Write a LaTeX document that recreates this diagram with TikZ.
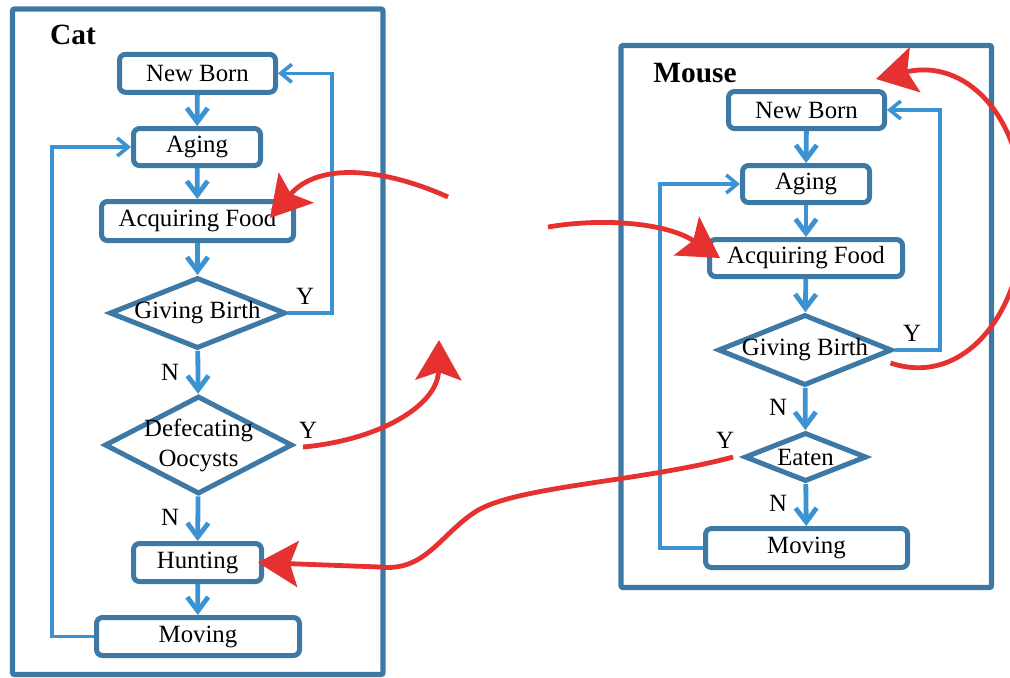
\documentclass[tikz,border=0pt]{standalone}
\usepackage{fontspec}
\setmainfont{Liberation Serif}
\usetikzlibrary{arrows.meta,shapes.geometric,positioning,calc}

\definecolor{frameblue}{RGB}{61,121,164}
\definecolor{flowblue}{RGB}{59,147,211}
\definecolor{redline}{RGB}{229,50,48}

\tikzset{
  txt/.style={font=\fontsize{12.4}{15}\selectfont},
  frame/.style={draw=frameblue,line width=2.6pt,rounded corners=1pt},
  box/.style={draw=frameblue,line width=2.5pt,rounded corners=3pt,fill=white,inner sep=0pt,txt},
  decision/.style={draw=frameblue,line width=2.5pt,diamond,fill=white,inner sep=0pt},
  flow/.style={draw=flowblue,line width=2.4pt,-{Straight Barb[length=7pt,width=10.5pt]}},
  loopline/.style={draw=flowblue,line width=1.8pt,-{Straight Barb[length=5.5pt,width=9pt]}},
  redarrow/.style={draw=redline,line width=2.4pt,-{Stealth[length=20pt,width=23pt,inset=4pt]}},
  title/.style={font=\fontsize{14.7}{16}\selectfont\bfseries}
}

\begin{document}
\begin{tikzpicture}[x=0.5pt,y=-0.5pt]

\useasboundingbox (0,0) rectangle (1010,677);
\clip (0,0) rectangle (1010,677);

% cat
\draw[frame] (12.5,9) rectangle (383,674.5);
\node[title] (cattitle) at (73,35) {Cat};

\node[box,minimum width=78pt,minimum height=19pt] (cnew) at (197.5,73.3) {New Born};
\node[box,minimum width=63.5pt,minimum height=18.5pt] (caging) at (197,147) {Aging};
\node[box,minimum width=96pt,minimum height=19.5pt] (cfood) at (197.5,221) {Acquiring Food};
\node[decision,minimum width=88pt,minimum height=35.5pt,label={[txt]center:Giving Birth}] (cbirth) at (197.5,313) {};
\node[decision,minimum width=94pt,minimum height=49pt,label={[txt,align=center]center:{Defecating\\Oocysts}}] (cdef) at (198.5,445) {};
\node[box,minimum width=64pt,minimum height=19pt] (chunt) at (197.5,562.5) {Hunting};
\node[box,minimum width=101.5pt,minimum height=19pt] (cmove) at (198,636.5) {Moving};

\draw[flow] (cnew) -- (caging);
\draw[flow] (caging) -- (cfood);
\draw[flow] (cfood) -- (cbirth);
\draw[flow] (cbirth) -- (cdef);
\draw[flow] (cdef) -- (chunt);
\draw[flow] (chunt) -- (cmove);
\draw[loopline] (cbirth.east) -- (cbirth.east -| 332,0) |- (cnew.east);
\draw[loopline] (cmove.west) -- (cmove.west -| 52,0) |- (caging.west);

\node[txt] (cby) at (305,296) {Y};
\node[txt] (cdy) at (308,430) {Y};
\node[txt] (cbn) at (170,372) {N};
\node[txt] (cdn) at (170,517) {N};

% mouse
\draw[frame] (621,45.5) rectangle (991.5,587.5);
\node[title] (mousetitle) at (695,73) {Mouse};

\node[box,minimum width=78pt,minimum height=18.5pt] (mnew) at (806.5,110) {New Born};
\node[box,minimum width=63.5pt,minimum height=18.5pt] (maging) at (806,184) {Aging};
\node[box,minimum width=96.5pt,minimum height=18.5pt] (mfood) at (806,258) {Acquiring Food};
\node[decision,minimum width=87pt,minimum height=35.5pt,label={[txt]center:Giving Birth}] (mbirth) at (805,350) {};
\node[decision,minimum width=61pt,minimum height=24.5pt,label={[txt]center:Eaten}] (meaten) at (805.5,457) {};
\node[box,minimum width=101pt,minimum height=19.5pt] (mmove) at (806.5,548) {Moving};

\draw[flow] (mnew) -- (maging);
\draw[flow] (maging) -- (mfood);
\draw[flow] (mfood) -- (mbirth);
\draw[flow] (mbirth) -- (meaten);
\draw[flow] (meaten) -- (mmove);
\draw[loopline] (mbirth.east) -- (mbirth.east -| 940,0) |- (mnew.east);
\draw[loopline] (mmove.west) -- (mmove.west -| 660,0) |- (maging.west);

\node[txt] (mby) at (912,333) {Y};
\node[txt] (mey) at (725,440) {Y};
\node[txt] (mbn) at (778,407) {N};
\node[txt] (men) at (778,503) {N};

% between the two
\coordinate (r1s) at (448,197);
\coordinate (cfoodin) at ($(cfood.east)+(-26,-3)$);
\coordinate (r2s) at (548,227);
\coordinate (mfoodin) at ($(mfood.west)+(13,0)$);
\coordinate (cdefout) at ($(cdef.east)+(8,2)$);
\coordinate (r3e) at (439,340);
\coordinate (mbirthout) at ($(mbirth.east)+(-4,13)$);
\coordinate (r4e) at (876,79);
\coordinate (meatenout) at ($(meaten.west)+(-9,0)$);
\coordinate (chuntin) at ($(chunt.east)+(-6,0)$);

\draw[redarrow] (r1s) .. controls (388,170) and (320,160) .. (cfoodin);
\draw[redarrow] (r2s) .. controls (600,218) and (665,222) .. (mfoodin);
\draw[redarrow] (cdefout) .. controls (380,440) and (438,405) .. (r3e);
\draw[redarrow] (mbirthout) .. controls (965,388) and (1026,310) .. (1024,210) .. controls (1022,115) and (965,58) .. (r4e);
\draw[redarrow] (meatenout) .. controls (640,482) and (515,486) .. (475,512) .. controls (440,535) and (425,572) .. (380,567) -- (chuntin);

\end{tikzpicture}
\end{document}
